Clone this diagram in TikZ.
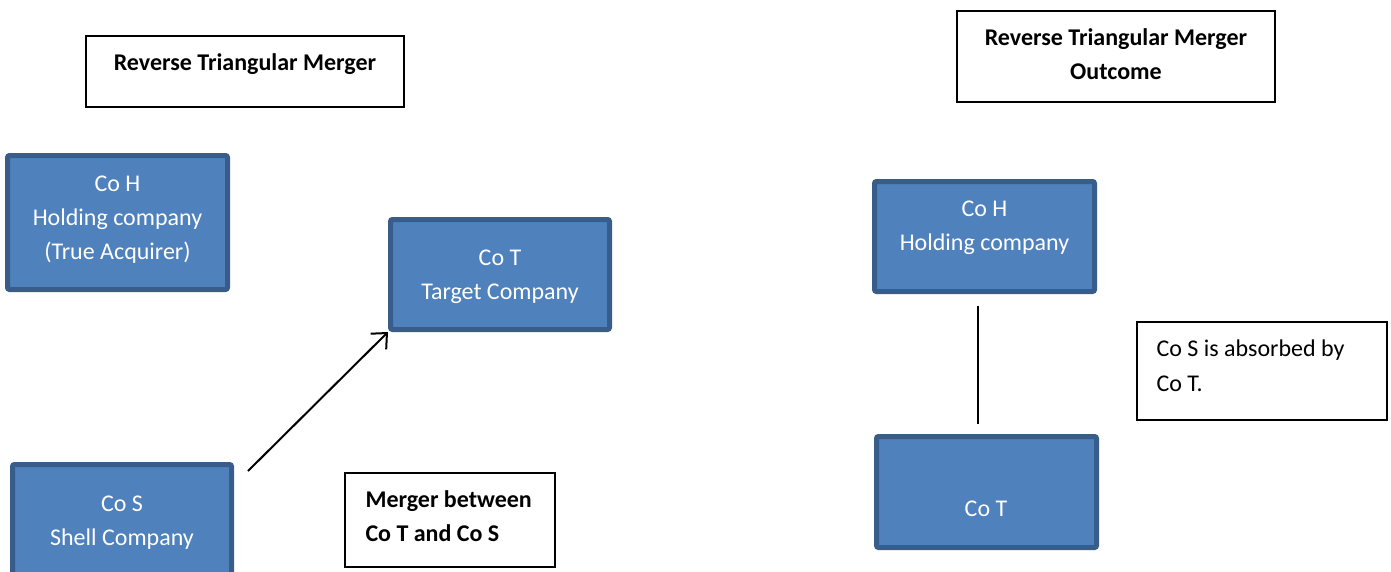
\documentclass[tikz,border=0pt]{standalone}
\usepackage{fontspec}
\setmainfont{Carlito}
\usetikzlibrary{arrows.meta,calc}
\definecolor{cofill}{HTML}{4F81BD}
\definecolor{coedge}{HTML}{385D8A}
\begin{document}
\begin{tikzpicture}[x=1pt,y=-1pt,
        cobox/.style={draw=coedge, fill=cofill, line width=5pt, rounded corners=2pt, inner sep=0pt},
        cotext/.style={text=white, align=center, font=\fontsize{24}{34}\selectfont},
        notebox/.style={draw=black, line width=1.3pt, inner sep=0pt},
        notetext/.style={align=left, font=\fontsize{24}{35}\selectfont},
        titletext/.style={align=center, font=\fontsize{24}{34}\selectfont\bfseries},
        ]
        \useasboundingbox (0,0) rectangle (1391,571);
        \node[notebox, minimum width=318, minimum height=71] (titleL) at (245,71.5) {};
        \node[titletext] (titleL-txt) at (245,64) {Reverse Triangular Merger};
        \node[notebox, minimum width=318, minimum height=91] (titleR) at (1116,56.5) {};
        \node[titletext] (titleR-txt) at (1116,54) {Reverse Triangular Merger\\Outcome};
        \node[cobox, minimum width=220, minimum height=134] (hL) at (117.5,222.5) {};
        \node[cotext] (hL-txt) at (117.5,219.5) {Co H\\Holding company\\(True Acquirer)};
        \node[cobox, minimum width=219, minimum height=110] (tL) at (500,274.5) {};
        \node[cotext] (tL-txt) at (500,276.5) {Co T\\Target Company};
        \node[cobox, minimum width=219, minimum height=120] (sL) at (122,524.5) {};
        \node[cotext] (sL-txt) at (122,522.5) {Co S\\Shell Company};
        \node[notebox, minimum width=210, minimum height=94] (merger) at (450,520) {};
        \node[notetext, font=\fontsize{24}{34}\selectfont\bfseries, anchor=west] (merger-txt) at (362,516) {Merger between\\Co T and Co S};
        \node[cobox, minimum width=220, minimum height=110] (hR) at (984.5,236.5) {};
        \node[cotext] (hR-txt) at (984.5,228) {Co H\\Holding company};
        \node[cobox, minimum width=220, minimum height=111] (tR) at (986.5,492) {};
        \node[cotext] (tR-txt) at (986,509) {Co T};
        \node[notebox, minimum width=250, minimum height=98] (note) at (1262,371) {};
        \node[notetext, anchor=west] (note-txt) at (1153,365.5) {Co S is absorbed by\\Co T.};
        \coordinate (sTail) at (248,471);
        \draw[line width=2pt, -{Straight Barb[length=12pt,width=22pt,line width=2pt]}] (sTail) -- (tL.south west);
        \draw[line width=2pt, shorten <=12pt, shorten >=10pt] ([xshift=-6.5pt]hR.south) -- ([xshift=-6.5pt]hR.south |- tR.north);
    \end{tikzpicture}
\end{document}
